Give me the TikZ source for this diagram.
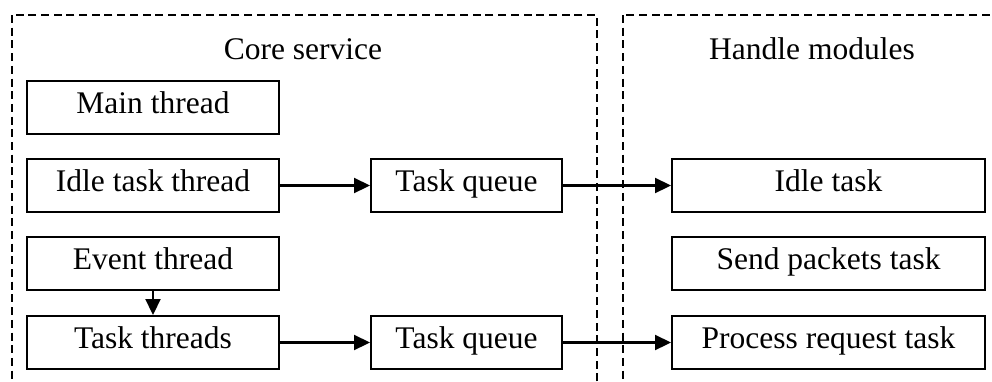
\documentclass[tikz,border=0pt]{standalone}
\usepackage{fontspec}
\setmainfont{Liberation Serif}
\usetikzlibrary{arrows.meta}

\tikzset{
  boxnode/.style={draw, line width=2pt, rectangle, minimum height=53pt, inner sep=0pt,
    text height=18pt, text depth=6pt, anchor=center},
  region/.style={draw, line width=1.7pt, dash pattern=on 8pt off 4.7pt},
  flow/.style={line width=2.2pt, -{Triangle[length=16pt,width=15pt]}},
  caption/.style={inner sep=0pt, anchor=base}
}

\begin{document}
\begin{tikzpicture}[x=1pt,y=-1pt]
  \fontsize{31.5}{36}\selectfont
  \useasboundingbox (0,0) rectangle (992,381);
  \clip (0,0) rectangle (992,381);

  % dashed regions for the two subsystems
  \draw[region] (12,15) rectangle (597,420);
  \draw[region] (623,15) rectangle (1030,420);

  \node[caption] (core) at (303,59) {Core service};
  \node[caption] (handle) at (812,59) {Handle modules};

  % core service threads
  \node[boxnode, minimum width=252pt] (main)  at (153,107.5) {Main thread};
  \node[boxnode, minimum width=252pt] (idle)  at (153,185.5) {Idle task thread};
  \node[boxnode, minimum width=252pt] (event) at (153,263.5) {Event thread};
  \node[boxnode, minimum width=252pt] (tasks) at (153,342.5) {Task threads};

  % queues
  \node[boxnode, minimum width=191pt] (q1) at (466.5,185.5) {Task queue};
  \node[boxnode, minimum width=191pt] (q2) at (466.5,342.5) {Task queue};

  % handle modules
  \node[boxnode, minimum width=313pt] (idletask) at (828.5,185.5) {Idle task};
  \node[boxnode, minimum width=313pt] (send)     at (828.5,263.5) {Send packets task};
  \node[boxnode, minimum width=313pt] (proc)     at (828.5,342.5) {Process request task};

  % connectors
  \draw[flow] (idle) -- (q1);
  \draw[flow] (q1) -- (idletask);
  \draw[flow] (event) -- (tasks);
  \draw[flow] (tasks) -- (q2);
  \draw[flow] (q2) -- (proc);
\end{tikzpicture}
\end{document}
